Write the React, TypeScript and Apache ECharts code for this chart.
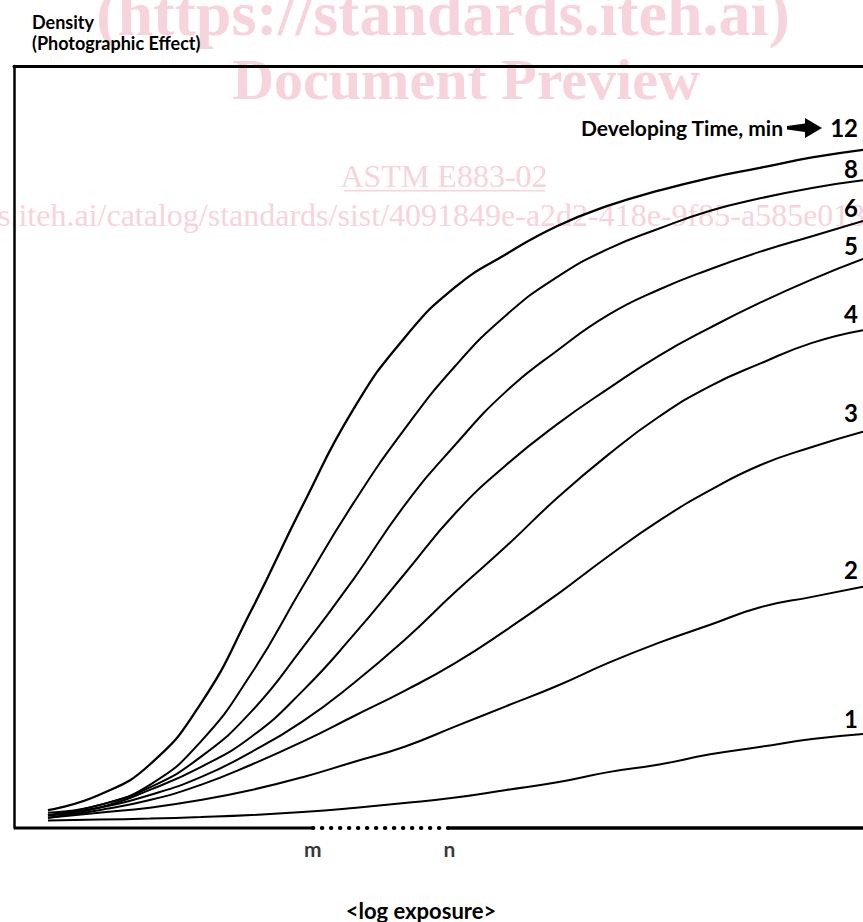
import React, { useEffect, useRef } from "react";
import * as echarts from "echarts";

// log exposure positions (arbitrary units, 0..10)
const xs = [0.4, 1.0, 1.6, 2.2, 2.8, 3.4, 4.0, 4.6, 5.2, 5.8, 6.4, 7.0, 7.6, 8.2, 8.8, 9.4, 10.0];

// density (photographic effect) for each developing time, min
const d12 = [0.07, 0.13, 0.25, 0.49, 0.86, 1.27, 1.65, 1.93, 2.13, 2.26, 2.37, 2.45, 2.51, 2.56, 2.6, 2.64, 2.67];
const d8 = [0.06, 0.09, 0.17, 0.34, 0.61, 0.95, 1.28, 1.57, 1.82, 2.02, 2.17, 2.28, 2.36, 2.43, 2.48, 2.52, 2.55];
const d6 = [0.05, 0.09, 0.16, 0.28, 0.46, 0.71, 0.98, 1.27, 1.51, 1.72, 1.88, 2.02, 2.12, 2.2, 2.27, 2.33, 2.39];
const d5 = [0.05, 0.08, 0.15, 0.24, 0.36, 0.54, 0.76, 1.0, 1.24, 1.43, 1.59, 1.73, 1.86, 1.97, 2.07, 2.16, 2.24];
const d4 = [0.05, 0.08, 0.13, 0.2, 0.3, 0.42, 0.57, 0.74, 0.93, 1.11, 1.3, 1.47, 1.62, 1.74, 1.83, 1.91, 1.96];
const d3 = [0.04, 0.07, 0.11, 0.17, 0.25, 0.34, 0.44, 0.54, 0.65, 0.78, 0.92, 1.07, 1.21, 1.33, 1.43, 1.5, 1.56];
const d2 = [0.04, 0.06, 0.08, 0.11, 0.15, 0.2, 0.26, 0.32, 0.4, 0.48, 0.56, 0.65, 0.73, 0.8, 0.87, 0.91, 0.95];
const d1 = [0.03, 0.033, 0.037, 0.043, 0.051, 0.063, 0.079, 0.098, 0.12, 0.15, 0.18, 0.22, 0.25, 0.29, 0.32, 0.35, 0.37];

const times = ["12", "8", "6", "5", "4", "3", "2", "1"];
const curves = [d12, d8, d6, d5, d4, d3, d2, d1];

// exposure-axis range and the m..n interval
const xMin = 0;
const xMax = 10;
const mPos = 3.52;
const nPos = 5.13;

const FONT = "Lato, 'Open Sans', sans-serif";
const SERIF = "'Liberation Serif', 'DejaVu Serif', serif";
const WM = "#f7d3dc";

export default function App() {
  const ref = useRef<HTMLDivElement>(null);

  useEffect(() => {
    if (!ref.current) return;
    const chart = echarts.init(ref.current, null, { renderer: "svg" });

    const curveSeries = curves.map((d, i) => ({
      name: times[i],
      type: "line",
      smooth: 0.5,
      symbol: "none",
      data: xs.map((x, j) => [x, d[j]]),
      lineStyle: { color: "#000", width: i === 0 ? 2.3 : 2 },
      z: 5,
    }));

    const labelY: Record<string, number> = {
      "8": 168, "6": 207, "5": 245, "4": 313, "3": 412, "2": 569, "1": 718,
    };

    const option = {
      animation: false,
      backgroundColor: "#fff",
      grid: { left: 14, right: 0, top: 66, bottom: 94 },
      xAxis: [
        {
          type: "value", min: xMin, max: xMax, position: "bottom",
          axisLine: { show: false }, axisTick: { show: false },
          axisLabel: { show: false }, splitLine: { show: false },
        },
        {
          type: "value", min: xMin, max: xMax, position: "top",
          axisLine: { show: true, lineStyle: { color: "#000", width: 3 } },
          axisTick: { show: false }, axisLabel: { show: false }, splitLine: { show: false },
        },
      ],
      yAxis: {
        type: "value", min: 0, max: 3,
        axisLine: { show: true, lineStyle: { color: "#000", width: 2.5 } },
        axisTick: { show: false }, axisLabel: { show: false }, splitLine: { show: false },
      },
      series: [
        ...curveSeries,
        {
          type: "line", symbol: "none", clip: false,
          data: [[xMin, 0], [mPos, 0]],
          lineStyle: { color: "#000", width: 3 }, z: 6,
        },
        {
          type: "line", symbol: "none", clip: false,
          data: [[mPos, 0], [nPos, 0]],
          lineStyle: { color: "#000", width: 4, type: [0.5, 8.5], cap: "round" }, z: 6,
        },
        {
          type: "line", symbol: "none", clip: false,
          data: [[nPos, 0], [xMax, 0]],
          lineStyle: { color: "#000", width: 3.5 }, z: 6,
        },
        {
          type: "scatter", symbolSize: 0, clip: false,
          data: [
            { value: [mPos, 0], label: { formatter: "m" } },
            { value: [nPos, 0], label: { formatter: "n" } },
          ],
          label: {
            show: true, position: "bottom", distance: 10,
            fontFamily: FONT, fontWeight: "bold", fontSize: 21, color: "#000",
          },
          z: 6,
        },
      ],
      graphic: [
        // watermark
        { type: "text", z: -10, x: 443, y: 13, style: { text: "(https://standards.iteh.ai)", font: `bold 64px ${SERIF}`, fill: WM, align: "center", verticalAlign: "middle" } },
        { type: "text", z: -10, x: 466, y: 79, style: { text: "Document Preview", font: `bold 58px ${SERIF}`, fill: WM, align: "center", verticalAlign: "middle" } },
        { type: "text", z: -10, x: 444, y: 176, style: { text: "ASTM E883-02", font: `32px ${SERIF}`, fill: WM, align: "center", verticalAlign: "middle" } },
        { type: "rect", z: -10, shape: { x: 344, y: 190, width: 201, height: 1.5 }, style: { fill: WM } },
        { type: "text", z: -10, x: -2, y: 215, style: { text: "s.iteh.ai/catalog/standards/sist/4091849e-a2d2-418e-9f85-a585e013", font: `32px ${SERIF}`, fill: WM, align: "left", verticalAlign: "middle" } },
        // titles
        { type: "text", z: 20, x: 32, y: 22, style: { text: "Density", font: `bold 18px ${FONT}`, fill: "#000", verticalAlign: "middle" } },
        { type: "text", z: 20, x: 32, y: 43, style: { text: "(Photographic Effect)", font: `bold 18px ${FONT}`, fill: "#000", verticalAlign: "middle" } },
        { type: "text", z: 20, x: 783, y: 127, style: { text: "Developing Time, min", font: `bold 21px ${FONT}`, fill: "#000", align: "right", verticalAlign: "middle" } },
        { type: "polygon", z: 20, shape: { points: [[787, 126], [805, 123.5], [805, 118], [822, 128], [805, 138], [805, 132], [787, 129.5]] }, style: { fill: "#000" } },
        { type: "text", z: 20, x: 858, y: 127, style: { text: "12", font: `bold 24px ${FONT}`, fill: "#000", align: "right", verticalAlign: "middle" } },
        ...times.slice(1).map((t) => ({
          type: "text", z: 20, x: 858, y: labelY[t],
          style: { text: t, font: `bold 24px ${FONT}`, fill: "#000", align: "right", verticalAlign: "middle" },
        })),
        { type: "text", z: 20, x: 421, y: 910, style: { text: "<log exposure>", font: `bold 22px ${FONT}`, fill: "#000", align: "center", verticalAlign: "middle" } },
      ],
    };

    chart.setOption(option as any);
    return () => chart.dispose();
  }, []);

  return (
    <div
      ref={ref}
      style={{ position: "fixed", left: 0, top: 0, width: 863, height: 922, background: "#fff" }}
    />
  );
}
